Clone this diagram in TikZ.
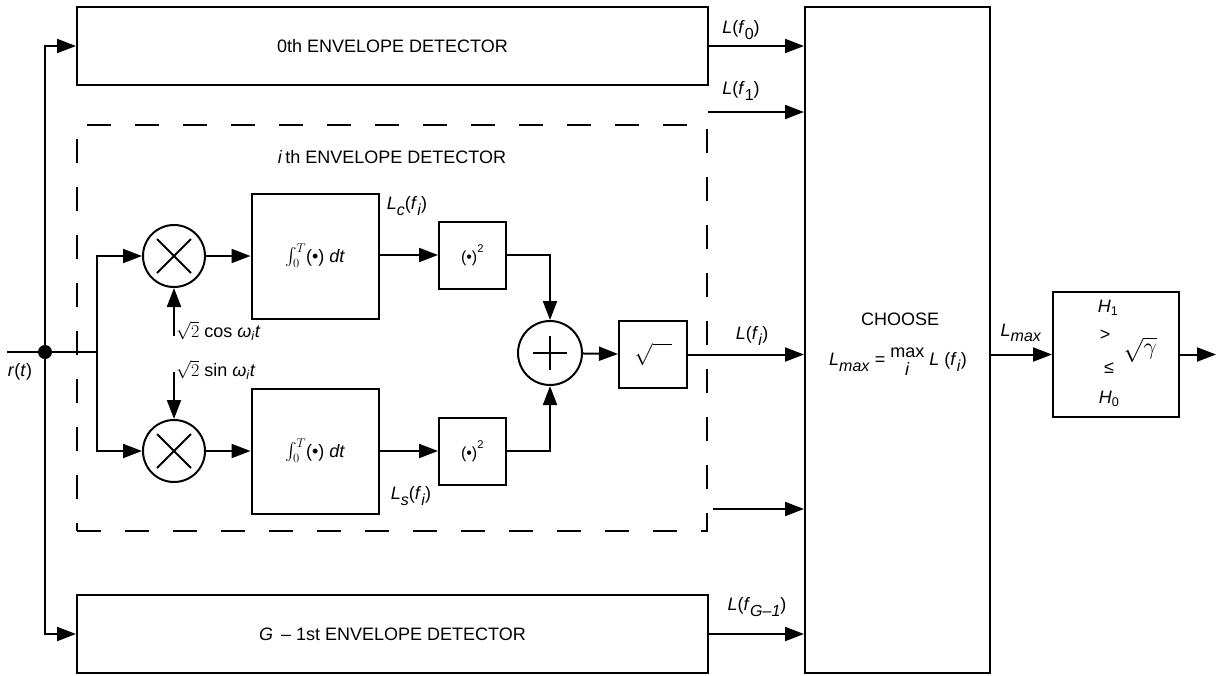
\RequirePackage{fix-cm}
\documentclass[tikz,border=0pt]{standalone}
\usepackage{amsmath}
\usepackage{fontspec}
\setmainfont{Liberation Sans}
\usetikzlibrary{arrows.meta,calc,positioning}
\newcommand{\mi}[1]{\textit{#1}}
\newcommand{\dn}[1]{\raisebox{-0.55ex}{\fontsize{16}{16}\selectfont #1}}
\newcommand{\sq}{(\textbullet)\raisebox{0.5ex}{\textsuperscript{2}}}
\newcommand{\intg}{$\textstyle\int_0^T$(\textbullet) \mi{dt}}
\newcommand{\maxi}{\setbox0\hbox{max}\raisebox{8pt}{\copy0}\hspace{-\wd0}\makebox[\wd0]{\raisebox{-10pt}{\mi{i}}}}

\begin{document}
\begin{tikzpicture}[x=1pt, y=-1pt, >={Triangle[length=19pt,width=14pt]},
  line width=2pt, font=\fontsize{18}{22}\selectfont,
  blk/.style={draw, inner sep=0pt},
  mult/.style={draw, circle, minimum size=62pt, inner sep=0pt,
    path picture={\draw (path picture bounding box.center) ++(-17pt,-17pt) -- ++(34pt,34pt)
      ++(-34pt,0pt) -- ++(34pt,-34pt);}},
  adder/.style={draw, circle, minimum size=64pt, inner sep=0pt,
    path picture={\draw (path picture bounding box.center) ++(-17pt,0pt) -- ++(34pt,0pt)
      ++(-17pt,-17pt) -- ++(0pt,34pt);}},
  sig/.style={->}]
  \useasboundingbox (0,0) rectangle (1222,675);

  % outer envelope detectors
  \node[blk, minimum width=631pt, minimum height=78pt] (det0) at (392.5,46) {0th ENVELOPE DETECTOR};
  \node[blk, minimum width=631pt, minimum height=78pt] (detG) at (392.5,634) {\mi{G}\, – 1st ENVELOPE DETECTOR};
  % i-th detector (dashed)
  \node[draw, dash pattern=on 24pt off 24pt, minimum width=630pt, minimum height=406pt] (ienv) at (392,328) {};
  \node (ititle) at (392,157) {\mi{i}\,th ENVELOPE DETECTOR};

  % chooser and threshold test
  \node[blk, minimum width=185pt, minimum height=666pt] (choose) at (897.5,340) {};
  \node (chtitle) at (900,319) {CHOOSE};
  \node (chform) at (898,362) {\mi{L}\dn{\mi{max}} = \maxi\ \mi{L} (\mi{f}\dn{\mi{i}})};
  \node[blk, minimum width=126pt, minimum height=125pt] (dec) at (1116,354.5) {};
  \node (h1) at (1108,308) {\mi{H}\textsubscript{1}};
  \node (gt) at (1105,335) {>};
  \node (le) at (1109,368) {≤};
  \node (h0) at (1109,399) {\mi{H}\textsubscript{0}};
  \node (gam) at (1140,350) {\fontsize{24}{26}\selectfont$\sqrt{\gamma}$};
  \coordinate (out) at (1216,354.5);

  % input and branching
  \coordinate (rin) at (7,352);
  \node[circle, fill, inner sep=0pt, minimum size=14pt] (tap) at (45,352) {};
  \node (rlab) at (20,372) {\mi{r}(\mi{t})};
  \coordinate (sp) at (97,352);

  % quadrature branches
  \node[mult] (mult1) at (174,256) {};
  \node[mult] (mult2) at (174,451) {};
  \node[blk, minimum width=127pt, minimum height=125pt] (int1) at (315,256) {\intg};
  \node[blk, minimum width=127pt, minimum height=125pt] (int2) at (315,451) {\intg};
  \node[blk, minimum size=67pt] (sq1) at (472.5,255) {\fontsize{16}{18}\selectfont\sq};
  \node[blk, minimum size=67pt] (sq2) at (472.5,451) {\fontsize{16}{18}\selectfont\sq};
  \node[adder] (sum) at (550,353) {};
  \node[blk, minimum width=68pt, minimum height=67pt] (rt) at (653,354.5) {\fontsize{22}{24}\selectfont$\sqrt{\hphantom{m}}$};
  \coordinate (cosin) at (174,336);
  \coordinate (sinin) at (174,372);
  \node[anchor=west, inner sep=1pt] (coslab) at (174,331) {$\sqrt{2}$ cos \mi{ω}\textsubscript{\mi{i}}\mi{t}};
  \node[anchor=west, inner sep=1pt] (sinlab) at (174,370) {$\sqrt{2}$ sin \mi{ω}\textsubscript{\mi{i}}\mi{t}};
  \node (lclab) at (407,206) {\mi{L}\dn{\mi{c}}(\mi{f}\dn{\mi{i}})};
  \node (lslab) at (411,496) {\mi{L}\dn{\mi{s}}(\mi{f}\dn{\mi{i}})};

  % other detector outputs
  \coordinate (f1s) at (708,112);
  \coordinate (fxs) at (713,509);
  \node (l0) at (741,30) {\mi{L}(\mi{f}\dn{0})};
  \node (l1) at (741,91) {\mi{L}(\mi{f}\dn{1})};
  \node (li) at (752,336) {\mi{L}(\mi{f}\dn{\mi{i}})};
  \node (lg) at (757,607) {\mi{L}(\mi{f}\dn{\mi{G–1}})};
  \node (lmax) at (1021,333) {\mi{L}\dn{\mi{max}}};

  % connections
  \draw (rin) -- (tap.center) -- (sp);
  \draw[sig] (tap.center) |- (det0.west);
  \draw[sig] (tap.center) |- (detG.west);
  \draw[sig] (sp) |- (mult1.west);
  \draw[sig] (sp) |- (mult2.west);
  \draw[sig] (cosin) -- (mult1.south);
  \draw[sig] (sinin) -- (mult2.north);
  \draw[sig] (mult1) -- (int1);
  \draw[sig] (mult2) -- (int2);
  \draw[sig] (int1.east |- sq1.west) -- (sq1.west);
  \draw[sig] (int2) -- (sq2);
  \draw[sig] (sq1.east) -| (sum.north);
  \draw[sig] (sq2.east) -| (sum.south);
  \draw[sig] (sum) -- (rt);
  \draw[sig] (rt.east) -- (rt.east -| choose.west);
  \draw[sig] (det0.east) -- (det0.east -| choose.west);
  \draw[sig] (f1s) -- (f1s -| choose.west);
  \draw[sig] (fxs) -- (fxs -| choose.west);
  \draw[sig] (detG.east) -- (detG.east -| choose.west);
  \draw[sig] (dec.west -| choose.east) -- (dec.west);
  \draw[sig] (dec.east) -- (out);
\end{tikzpicture}
\end{document}
